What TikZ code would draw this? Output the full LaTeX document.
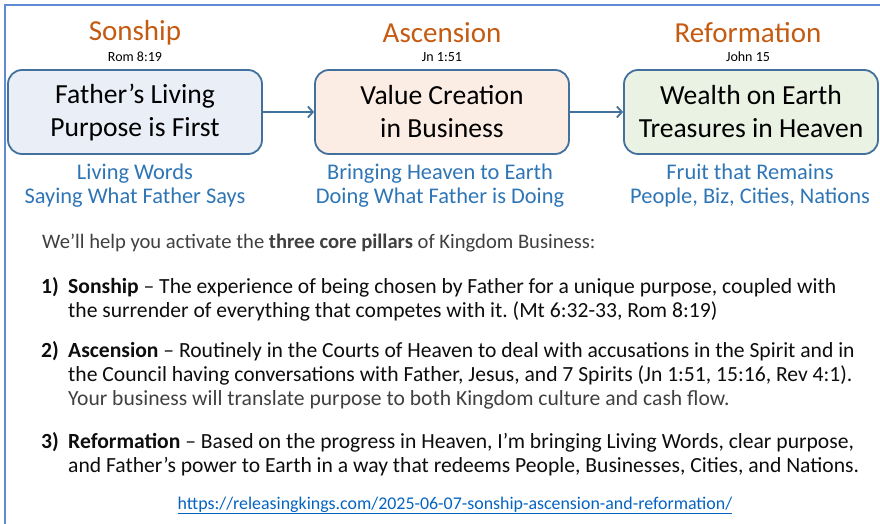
\documentclass[tikz,border=0pt]{standalone}
\usepackage{fontspec}
\setmainfont{Carlito}
\usetikzlibrary{arrows.meta}

\definecolor{framec}{RGB}{96,138,214}
\definecolor{boxline}{RGB}{65,113,156}
\definecolor{fillA}{RGB}{233,238,247}
\definecolor{fillB}{RGB}{251,236,228}
\definecolor{fillC}{RGB}{234,242,228}
\definecolor{heading}{RGB}{197,90,17}
\definecolor{handblue}{RGB}{46,117,182}
\definecolor{bodytext}{RGB}{13,13,13}
\definecolor{softtext}{RGB}{64,64,64}
\definecolor{linkc}{RGB}{5,99,193}

\tikzset{
  pillar/.style={draw=boxline, line width=1.8pt, rounded corners=14pt,
    minimum width=254pt, minimum height=84pt, align=center, inner sep=0pt,
    font=\fontsize{27.6}{33}\selectfont},
  title/.style={text=heading, inner sep=0pt, font=\fontsize{29}{30}\selectfont},
  verse/.style={inner sep=0pt, font=\fontsize{14}{15}\selectfont},
  motto/.style={text=handblue, align=center, inner sep=0pt,
    font=\fontsize{22.4}{24}\selectfont},
  bodyline/.style={anchor=base west, text=bodytext, inner sep=0pt,
    font=\fontsize{21.6}{24}\selectfont\frenchspacing},
  flow/.style={draw=boxline, line width=1.8pt, -{Straight Barb[length=5pt,width=11pt]}}
}

\begin{document}
\begin{tikzpicture}[x=1pt, y=-1pt]
	\useasboundingbox (0,0) rectangle (880,524);

	%% Frame
	\draw[framec, line width=2pt] (5,524) -- (5,5) -- (880,5);

	%% Pillar boxes
	\node[pillar, fill=fillA] (sonship)     at (135,112) {Father’s Living\\Purpose is First};
	\node[pillar, fill=fillB] (ascension)   at (442,112) {Value Creation\\in Business};
	\node[pillar, fill=fillC] (reformation) at (751,112) {Wealth on Earth\\Treasures in Heaven};

	\draw[flow] (sonship) -- (ascension);
	\draw[flow] (ascension) -- (reformation);

	%% Titles and verses
	\node[title] (sonshipT)     at (135,33) {Sonship};
	\node[title] (ascensionT)   at (442,33) {Ascension};
	\node[title] (reformationT) at (748,33) {Reformation};
	\node[verse] (sonshipV)     at (135,57) {Rom 8:19};
	\node[verse] (ascensionV)   at (442,57) {Jn 1:51};
	\node[verse] (reformationV) at (748,57) {John 15};

	%% Mottos
	\node[motto] (sonshipM)     at (135,186) {Living Words\\Saying What Father Says};
	\node[motto] (ascensionM)   at (440,186) {Bringing Heaven to Earth\\Doing What Father is Doing};
	\node[motto] (reformationM) at (750,186) {Fruit that Remains\\People, Biz, Cities, Nations};

	%% Body text
	\node[bodyline, text=softtext, font=\fontsize{20.6}{24}\selectfont] (intro) at (42,248)
	  {We’ll help you activate the \textbf{three core pillars} of Kingdom Business:};

	\node[bodyline] (numA)   at (41,293) {\textbf{1)}};
	\node[bodyline] (itemA1) at (68,293) {\textbf{Sonship} – The experience of being chosen by Father for a unique purpose, coupled with};
	\node[bodyline] (itemA2) at (68,317) {the surrender of everything that competes with it. (Mt 6:32-33, Rom 8:19)};

	\node[bodyline] (numB)   at (41,357) {\textbf{2)}};
	\node[bodyline] (itemB1) at (68,357) {\textbf{Ascension} – Routinely in the Courts of Heaven to deal with accusations in the Spirit and in};
	\node[bodyline] (itemB2) at (68,381) {the Council having conversations with Father, Jesus, and 7 Spirits (Jn 1:51, 15:16, Rev 4:1).};
	\node[bodyline, text=softtext] (itemB3) at (68,405) {Your business will translate purpose to both Kingdom culture and cash flow.};

	\node[bodyline] (numC)   at (41,448) {\textbf{3)}};
	\node[bodyline] (itemC1) at (68,448) {\textbf{Reformation} – Based on the progress in Heaven, I’m bringing Living Words, clear purpose,};
	\node[bodyline] (itemC2) at (68,472) {and Father’s power to Earth in a way that redeems People, Businesses, Cities, and Nations.};

	%% Link
	\node[anchor=base, inner sep=0pt, text=linkc, font=\fontsize{17.9}{20}\selectfont] (link) at (455,509)
	  {\underline{https://releasingkings.com/2025-06-07-sonship-ascension-and-reformation/}};
\end{tikzpicture}
\end{document}
